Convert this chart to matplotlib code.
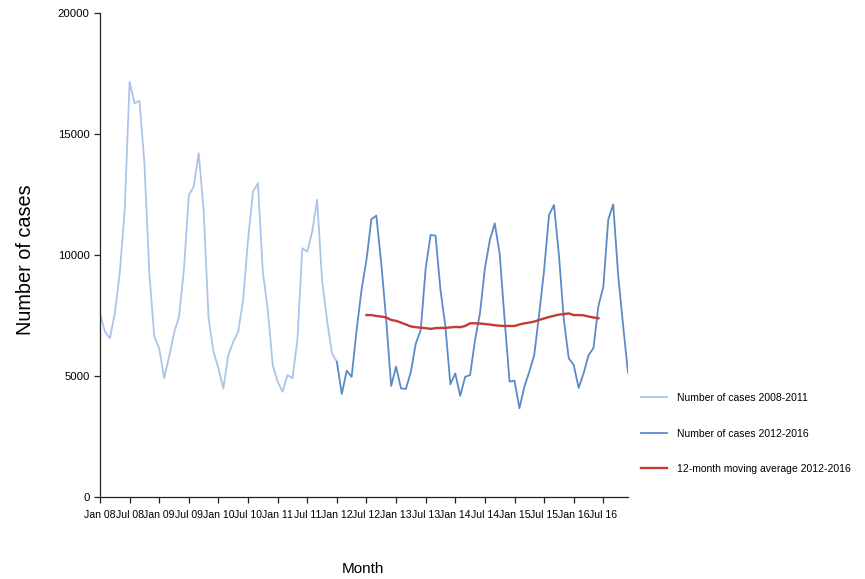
import numpy as np
import matplotlib
matplotlib.use("Agg")
import matplotlib.pyplot as plt

plt.rcParams['font.family'] = ['Liberation Sans', 'DejaVu Sans']

# Monthly case counts, January 2008 onwards
cases_2008_2011 = [7600, 6840, 6570, 7600, 9260, 11870, 17170, 16280, 16380, 13800, 9260, 6640,
                   6160, 4920, 5810, 6780, 7460, 9390, 12490, 12840, 14220, 11870, 7400, 6020,
                   5330, 4500, 5880, 6430, 6840, 8150, 10630, 12630, 12980, 9320, 7740, 5470,
                   4780, 4360, 5050, 4920, 6500, 10290, 10150, 10980, 12290, 8980, 7330, 5950]

cases_2012_2016 = [5600, 4270, 5230, 4980, 6910, 8570, 9810, 11490, 11640, 9670, 7330, 4600,
                   5400, 4500, 4480, 5190, 6360, 6910, 9460, 10840, 10810, 8570, 7050, 4670,
                   5120, 4190, 4980, 5050, 6500, 7600, 9460, 10630, 11320, 10050, 7330, 4780,
                   4820, 3680, 4570, 5190, 5880, 7570, 9390, 11670, 12080, 10010, 7330, 5740,
                   5470, 4520, 5120, 5870, 6170, 7900, 8700, 11480, 12100, 9190, 7120, 5150]

# Centred 12-month moving average (July 2012 - June 2016)
moving_avg_2012_2016 = [7530, 7530, 7490, 7470, 7430, 7330, 7290, 7220, 7140, 7060, 7030, 7010,
                        6990, 6960, 6990, 7000, 7000, 7020, 7040, 7030, 7080, 7190, 7190, 7180,
                        7160, 7140, 7110, 7090, 7080, 7080, 7080, 7140, 7190, 7220, 7260, 7330,
                        7390, 7450, 7500, 7550, 7570, 7600, 7530, 7530, 7520, 7470, 7430, 7400]

tick_labels = ["Jan 08", "Jul 08", "Jan 09", "Jul 09", "Jan 10", "Jul 10", "Jan 11", "Jul 11",
               "Jan 12", "Jul 12", "Jan 13", "Jul 13", "Jan 14", "Jul 14", "Jan 15", "Jul 15",
               "Jan 16", "Jul 16"]

legend_labels = ["Number of cases 2008-2011", "Number of cases 2012-2016",
                 "12-month moving average 2012-2016"]

n_early = len(cases_2008_2011)
x_early = np.arange(n_early + 1)
x_late = np.arange(n_early, n_early + len(cases_2012_2016))
x_ma = n_early + 6 + np.arange(len(moving_avg_2012_2016))

fig = plt.figure(figsize=(8.65, 5.79), dpi=100)
ax = fig.add_axes([100 / 865, 1 - 497.3 / 579, 528 / 865, 484 / 579])

light_blue = "#aac4ea"
dark_blue = "#5b8ac6"
red = "#c43a36"

l1, = ax.plot(x_early, cases_2008_2011 + cases_2012_2016[:1], color=light_blue, lw=1.3)
l2, = ax.plot(x_late, cases_2012_2016, color=dark_blue, lw=1.3)
l3, = ax.plot(x_ma, moving_avg_2012_2016, color=red, lw=1.7)

ax.set_xlim(0, len(cases_2008_2011) + len(cases_2012_2016) - 1)
ax.set_ylim(0, 20000)
ax.set_yticks(np.arange(0, 20001, 5000))
ax.set_xticks(np.arange(0, 6 * len(tick_labels), 6))
ax.set_xticklabels(tick_labels)

for side in ("top", "right"):
    ax.spines[side].set_visible(False)
for side in ("left", "bottom"):
    ax.spines[side].set_linewidth(0.9)
    ax.spines[side].set_color("#222222")

ax.tick_params(axis="both", direction="out", length=4.5, width=0.9, color="#222222")
ax.tick_params(axis="x", labelsize=7.6, pad=5)
ax.tick_params(axis="y", labelsize=8.2, pad=3)

fig.text(26 / 865, 1 - 260 / 579, "Number of cases", rotation=90,
         ha="center", va="center", fontsize=14.3)
fig.text(363 / 865, 1 - 569 / 579, "Month", ha="center", va="center", fontsize=11)

fig.legend([l1, l2, l3], legend_labels, loc="upper left",
           bbox_to_anchor=(641 / 865, 1 - 393 / 579), frameon=False,
           fontsize=7.5, handlelength=2.45, handletextpad=1.0,
           labelspacing=2.45, borderpad=0, borderaxespad=0)

fig.savefig("out.png", dpi=100)
